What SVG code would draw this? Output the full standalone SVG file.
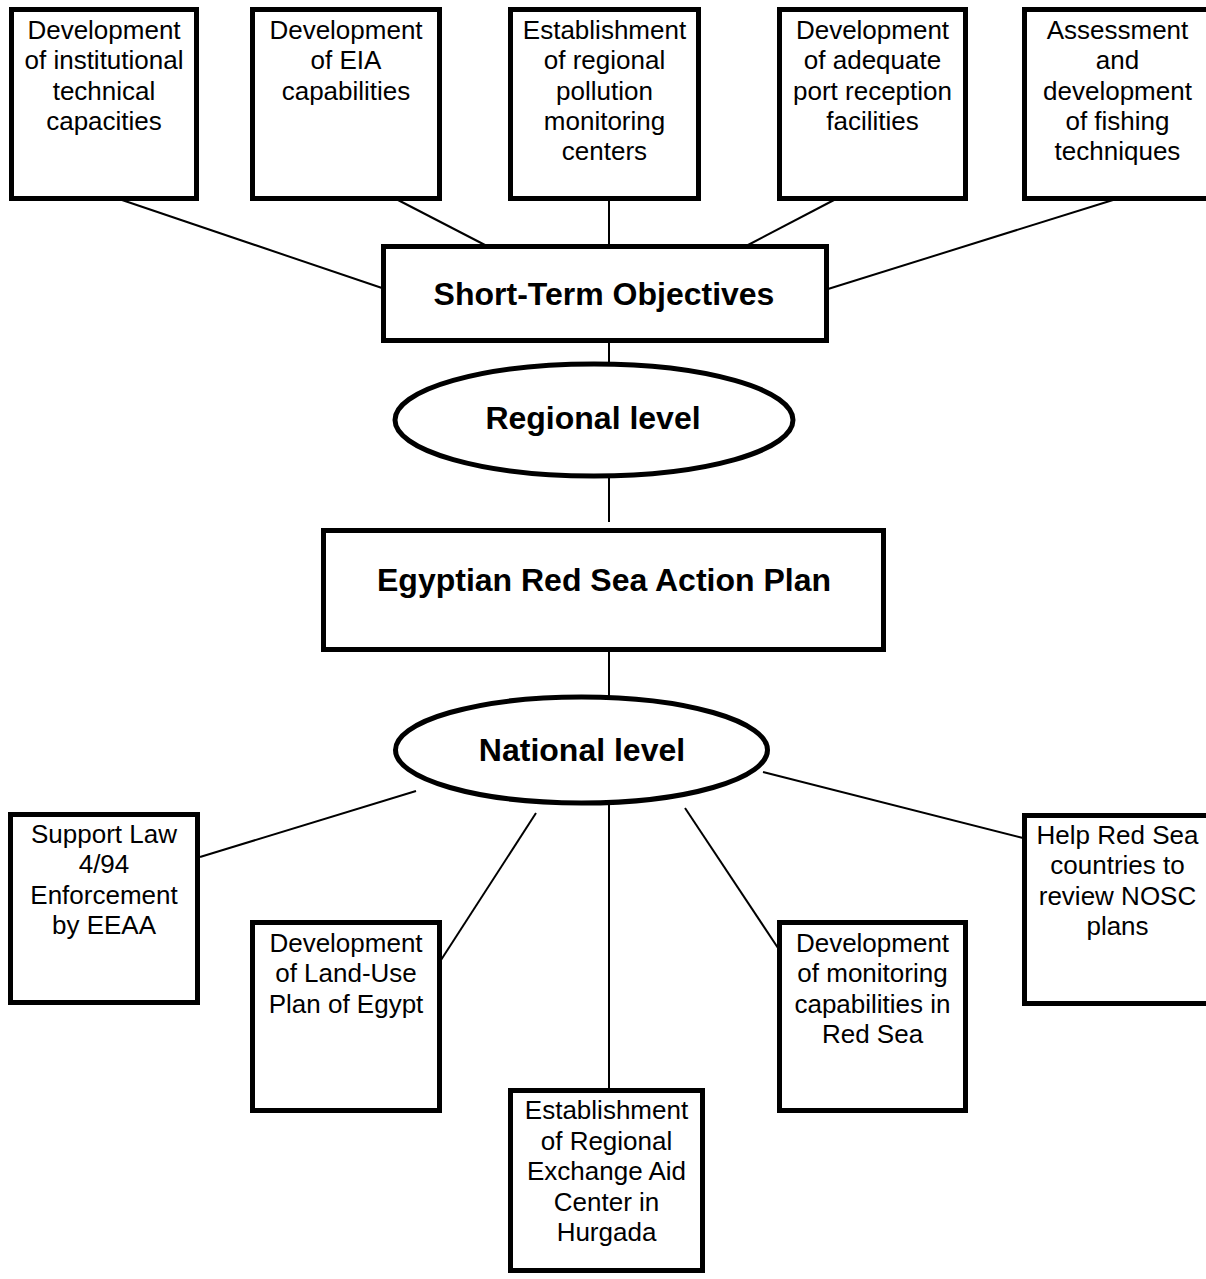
<svg xmlns="http://www.w3.org/2000/svg" width="1206" height="1279" viewBox="0 0 1206 1279">
<style>
.box{fill:#fff;stroke:#000;stroke-width:5}
.ell{fill:#fff;stroke:#000;stroke-width:5}
.con{stroke:#000;stroke-width:2;fill:none}
.t{font-family:"Liberation Sans",Arial,sans-serif;font-size:26px;fill:#000;text-anchor:middle}
.b{font-family:"Liberation Sans",Arial,sans-serif;font-size:32px;font-weight:bold;fill:#000;text-anchor:middle}
</style>
<rect width="1206" height="1279" fill="#fff"/>
<g id="connectors">
<line class="con" x1="122" y1="200" x2="382" y2="288"/>
<line class="con" x1="398" y1="200" x2="485" y2="245"/>
<line class="con" x1="609" y1="200" x2="609" y2="245"/>
<line class="con" x1="834" y1="200" x2="748" y2="245"/>
<line class="con" x1="1113" y1="200" x2="828" y2="289"/>
<line class="con" x1="609" y1="342" x2="609" y2="364"/>
<line class="con" x1="609" y1="476" x2="609" y2="522"/>
<line class="con" x1="609" y1="650" x2="609" y2="697"/>
<line class="con" x1="416" y1="791" x2="200" y2="857"/>
<line class="con" x1="536" y1="813" x2="441" y2="960"/>
<line class="con" x1="609" y1="803" x2="609" y2="1090"/>
<line class="con" x1="685" y1="808" x2="778" y2="948"/>
<line class="con" x1="763" y1="772" x2="1023" y2="838"/>
</g>
<g id="n1"><rect class="box" x="11.5" y="9.5" width="185" height="189"/>
<text class="t" x="104" y="39">Development</text><text class="t" x="104" y="69.3">of institutional</text><text class="t" x="104" y="99.6">technical</text><text class="t" x="104" y="129.9">capacities</text></g>
<g id="n2"><rect class="box" x="252.5" y="9.5" width="187" height="189"/>
<text class="t" x="346" y="39">Development</text><text class="t" x="346" y="69.3">of EIA</text><text class="t" x="346" y="99.6">capabilities</text></g>
<g id="n3"><rect class="box" x="510.5" y="9.5" width="188" height="189"/>
<text class="t" x="604.5" y="39">Establishment</text><text class="t" x="604.5" y="69.3">of regional</text><text class="t" x="604.5" y="99.6">pollution</text><text class="t" x="604.5" y="129.9">monitoring</text><text class="t" x="604.5" y="160.2">centers</text></g>
<g id="n4"><rect class="box" x="779.5" y="9.5" width="186" height="189"/>
<text class="t" x="872.5" y="39">Development</text><text class="t" x="872.5" y="69.3">of adequate</text><text class="t" x="872.5" y="99.6">port reception</text><text class="t" x="872.5" y="129.9">facilities</text></g>
<g id="n5"><rect class="box" x="1024.5" y="9.5" width="186" height="189"/>
<text class="t" x="1117.5" y="39">Assessment</text><text class="t" x="1117.5" y="69.3">and</text><text class="t" x="1117.5" y="99.6">development</text><text class="t" x="1117.5" y="129.9">of fishing</text><text class="t" x="1117.5" y="160.2">techniques</text></g>
<g id="short-term"><rect class="box" x="383.5" y="246.5" width="443" height="94"/>
<text class="b" x="604" y="305">Short-Term Objectives</text></g>
<g id="regional"><ellipse class="ell" cx="594" cy="420" rx="199" ry="56"/>
<text class="b" x="593" y="429">Regional level</text></g>
<g id="plan"><rect class="box" x="323.5" y="530.5" width="560" height="119"/>
<text class="b" x="604" y="591">Egyptian Red Sea Action Plan</text></g>
<g id="national"><ellipse class="ell" cx="581.5" cy="750" rx="186" ry="53"/>
<text class="b" x="582" y="761">National level</text></g>
<g id="n6"><rect class="box" x="10.5" y="814.5" width="187" height="188"/>
<text class="t" x="104" y="843">Support Law</text><text class="t" x="104" y="873.3">4/94</text><text class="t" x="104" y="903.6">Enforcement</text><text class="t" x="104" y="933.9">by EEAA</text></g>
<g id="n7"><rect class="box" x="252.5" y="922.5" width="187" height="188"/>
<text class="t" x="346" y="952">Development</text><text class="t" x="346" y="982.3">of Land-Use</text><text class="t" x="346" y="1012.6">Plan of Egypt</text></g>
<g id="n8"><rect class="box" x="510.5" y="1090.5" width="192" height="180"/>
<text class="t" x="606.5" y="1119">Establishment</text><text class="t" x="606.5" y="1149.5">of Regional</text><text class="t" x="606.5" y="1180">Exchange Aid</text><text class="t" x="606.5" y="1210.5">Center in</text><text class="t" x="606.5" y="1241">Hurgada</text></g>
<g id="n9"><rect class="box" x="779.5" y="922.5" width="186" height="188"/>
<text class="t" x="872.5" y="952">Development</text><text class="t" x="872.5" y="982.3">of monitoring</text><text class="t" x="872.5" y="1012.6">capabilities in</text><text class="t" x="872.5" y="1042.9">Red Sea</text></g>
<g id="n10"><rect class="box" x="1024.5" y="815.5" width="186" height="188"/>
<text class="t" x="1117.5" y="844">Help Red Sea</text><text class="t" x="1117.5" y="874.3">countries to</text><text class="t" x="1117.5" y="904.6">review NOSC</text><text class="t" x="1117.5" y="934.9">plans</text></g>
</svg>
